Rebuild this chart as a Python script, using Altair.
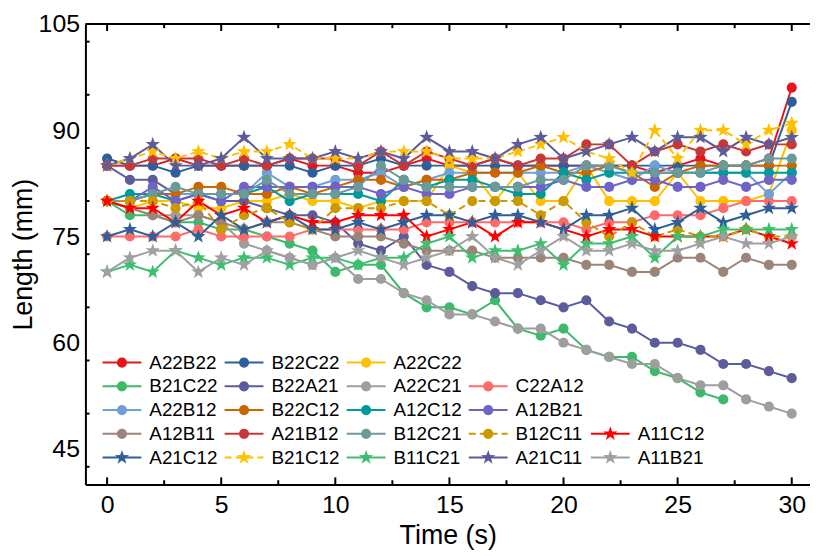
import altair as alt
import pandas as pd

# ---------------- data ----------------
times = list(range(31))

names = ["A22B22", "B22C22", "A22C22", "B21C22", "B22A21", "A22C21", "C22A12",
         "A22B12", "B22C12", "A12C12", "A12B21", "A12B11", "A21B12", "B12C21",
         "B12C11", "A11C12", "A21C12", "B21C12", "B11C21", "A21C11", "A11B21"]

A22B22 = [85, 85, 85, 86, 85, 85, 85, 85, 86, 85, 85, 84, 84, 85, 86, 85, 85, 86, 85, 85, 85, 85, 85, 85, 84, 85, 86, 85, 85, 86, 96]
B22C22 = [86, 85, 85, 84, 85, 85, 85, 85, 85, 84, 85, 85, 86, 85, 85, 85, 85, 85, 85, 85, 85, 85, 85, 85, 85, 85, 85, 85, 85, 85, 94]
A22C22 = [80, 79, 80, 80, 79, 79, 80, 80, 81, 80, 80, 79, 80, 80, 80, 85, 84, 80, 84, 80, 80, 85, 80, 80, 80, 84, 80, 80, 80, 81, 90]
B21C22 = [80, 78, 78, 77, 77, 76, 76, 75, 74, 73, 70, 71, 71, 67, 65, 65, 64, 66, 62, 61, 62, 59, 58, 58, 56, 55, 53, 52, None, None, None]
B22A21 = [85, 83, 83, 81, 81, 80, 80, 79, 78, 78, 77, 74, 73, 75, 71, 70, 68, 67, 67, 66, 65, 66, 63, 62, 60, 60, 59, 57, 57, 56, 55]
A22C21 = [80, 79, 78, 78, 78, 77, 74, 73, 72, 71, 72, 69, 69, 67, 66, 64, 64, 63, 62, 62, 60, 59, 58, 57, 57, 55, 54, 54, 52, 51, 50]
C22A12 = [75, 75, 75, 75, 76, 75, 75, 75, 75, 76, 76, 76, 76, 76, 77, 77, 77, 77, 77, 77, 77, 76, 77, 77, 78, 78, 78, 79, 80, 80, 80]
A22B12 = [80, 80, 81, 81, 81, 81, 81, 84, 82, 82, 83, 83, 84, 82, 83, 84, 84, 84, 84, 84, 84, 85, 84, 83, 85, 84, 84, 84, 84, 81, 84]
B22C12 = [80, 80, 81, 81, 82, 82, 81, 81, 82, 81, 82, 83, 83, 82, 83, 83, 84, 84, 84, 85, 84, 84, 85, 84, 82, 84, 85, 85, 85, 85, 85]
A12C12 = [80, 81, 81, 80, 81, 81, 81, 82, 80, 81, 81, 81, 80, 83, 82, 83, 83, 82, 81, 81, 84, 83, 84, 84, 84, 84, 84, 84, 84, 84, 84]
A12B21 = [80, 80, 82, 80, 81, 80, 82, 82, 82, 82, 82, 82, 81, 82, 81, 81, 82, 82, 82, 82, 83, 82, 82, 83, 83, 82, 82, 83, 82, 83, 83]
A12B11 = [80, 79, 78, 77, 78, 77, 76, 77, 77, 76, 75, 75, 75, 74, 73, 73, 73, 72, 72, 72, 72, 71, 71, 70, 70, 72, 72, 70, 72, 71, 71]
A21B12 = [85, 85, 86, 86, 86, 85, 86, 85, 86, 86, 86, 85, 87, 85, 87, 86, 85, 86, 85, 86, 86, 88, 88, 85, 87, 88, 87, 88, 87, 88, 88]
B12C21 = [80, 80, 81, 82, 81, 81, 81, 83, 81, 81, 81, 82, 85, 83, 82, 82, 82, 82, 82, 83, 83, 85, 85, 84, 84, 84, 84, 85, 85, 86, 86]
B12C11 = [80, 80, 80, 79, 80, 76, 78, 79, 77, 76, 79, 79, 79, 80, 80, 78, 80, 80, 80, 78, 80, 77, 75, 77, 75, 76, 75, 75, 76, 75, 75]
A11C12 = [80, 79, 79, 77, 80, 78, 79, 77, 78, 77, 77, 78, 78, 78, 75, 76, 77, 75, 77, 77, 76, 75, 76, 76, 75, 75, 75, 75, 76, 75, 74]
A21C12 = [75, 76, 75, 77, 75, 78, 76, 77, 78, 76, 76, 77, 76, 77, 78, 78, 77, 78, 78, 77, 76, 78, 78, 79, 76, 77, 79, 77, 78, 79, 79]
B21C12 = [85, 86, 87, 86, 87, 86, 87, 87, 88, 86, 86, 86, 87, 87, 87, 86, 86, 86, 87, 88, 89, 87, 86, 84, 90, 86, 90, 90, 88, 90, 91]
B11C21 = [70, 71, 70, 73, 72, 71, 72, 72, 71, 72, 72, 71, 72, 72, 74, 75, 72, 73, 73, 74, 71, 74, 74, 75, 72, 75, 75, 76, 76, 76, 76]
A21C11 = [85, 86, 88, 85, 85, 86, 89, 86, 86, 86, 87, 86, 87, 86, 89, 87, 87, 86, 88, 89, 86, 87, 88, 89, 87, 89, 89, 87, 89, 88, 89]
A11B21 = [70, 72, 73, 73, 70, 72, 71, 73, 72, 71, 72, 73, 72, 71, 72, 73, 75, 72, 71, 73, 75, 73, 73, 74, 73, 73, 74, 75, 74, 74, 75]

series_values = [A22B22, B22C22, A22C22, B21C22, B22A21, A22C21, C22A12,
                 A22B12, B22C12, A12C12, A12B21, A12B11, A21B12, B12C21,
                 B12C11, A11C12, A21C12, B21C12, B11C21, A21C11, A11B21]

x_ticks = [0, 5, 10, 15, 20, 25, 30]
y_ticks = [45, 60, 75, 90, 105]

# ---------------- styles ----------------
colors = ["#e8141c", "#2f5f98", "#ffc000", "#3cb96a", "#5c5c9c", "#9e9e9e", "#ff6b6b",
          "#6fa0d8", "#cc6600", "#009a9a", "#6e63c6", "#9b8478", "#c83737", "#6a9a9a",
          "#cc9900", "#ff0000", "#2f5f98", "#ffc000", "#3cc070", "#5c5c9c", "#a0a0a0"]
star_series = ["A11C12", "A21C12", "B21C12", "B11C21", "A21C11", "A11B21"]
dashed_series = ["B12C11", "B21C12"]
STAR = ("M0,-1L0.235,-0.324L0.951,-0.309L0.38,0.124L0.588,0.809L0,0.4"
        "L-0.588,0.809L-0.38,0.124L-0.951,-0.309L-0.235,-0.324Z")

# legend arrangement (row, column) per series
legend_layout = [(0, 0), (0, 1), (0, 2),
                 (1, 0), (1, 1), (1, 2), (1, 3),
                 (2, 0), (2, 1), (2, 2), (2, 3),
                 (3, 0), (3, 1), (3, 2), (3, 3), (3, 4),
                 (4, 0), (4, 1), (4, 2), (4, 3), (4, 4)]
legend_rows = [57.2, 53.85, 50.5, 47.15, 43.8]   # in mm units
legend_cols = [0.65, 6.0, 11.35, 16.7, 22.05]     # in time units
legend_half = 0.85
legend_text_gap = 1.2

X_MIN, X_MAX = -0.95, 30.8
Y_MIN, Y_MAX = 40, 105
FONT = "Liberation Sans"

# ---------------- tables ----------------
rows = []
for n, vals in zip(names, series_values):
    for t, v in zip(times, vals):
        if v is not None:
            rows.append({"series": n, "t": t, "v": v})
df = pd.DataFrame(rows)
df["star"] = df["series"].isin(star_series)
df["dashed"] = df["series"].isin(dashed_series)

leg_pts, leg_seg, leg_txt = [], [], []
for n, (r, c) in zip(names, legend_layout):
    cx, cy = legend_cols[c], legend_rows[r]
    leg_pts.append({"series": n, "t": cx, "v": cy, "star": n in star_series})
    leg_seg.append({"series": n, "t": cx - legend_half, "t2": cx + legend_half, "v": cy,
                    "dashed": n in dashed_series})
    leg_txt.append({"series": n, "t": cx + legend_text_gap, "v": cy})
leg_pts = pd.DataFrame(leg_pts)
leg_seg = pd.DataFrame(leg_seg)
leg_txt = pd.DataFrame(leg_txt)

tick_rows = []
for xv in [i * 2.5 for i in range(13)]:
    L = 1.0 if xv % 5 == 0 else 0.6
    tick_rows.append({"t": xv, "t2": xv, "v": Y_MIN, "v2": Y_MIN + L})
    tick_rows.append({"t": xv, "t2": xv, "v": Y_MAX, "v2": Y_MAX - L})
for yv in [42.5 + i * 7.5 for i in range(9)]:
    L = 0.3 if (yv - 45) % 15 == 0 else 0.18
    tick_rows.append({"t": X_MIN, "t2": X_MIN + L, "v": yv, "v2": yv})
ticks_df = pd.DataFrame(tick_rows)
frame_df = pd.DataFrame([{"t": X_MIN, "t2": X_MAX, "v": Y_MAX, "v2": Y_MAX}])

# ---------------- encodings ----------------
x_scale = alt.Scale(domain=[X_MIN, X_MAX], nice=False, zero=False)
y_scale = alt.Scale(domain=[Y_MIN, Y_MAX], nice=False, zero=False)
X = alt.X("t:Q", scale=x_scale, title="Time (s)", axis=alt.Axis(values=x_ticks, format="d"))
Y = alt.Y("v:Q", scale=y_scale, title="Length (mm)", axis=alt.Axis(values=y_ticks, format="d"))
C = alt.Color("series:N", scale=alt.Scale(domain=names, range=colors), legend=None)

solid_lines = alt.Chart(df).transform_filter("!datum.dashed").mark_line(strokeWidth=2).encode(
    x=X, y=Y, color=C, detail="series:N")
dash_lines = alt.Chart(df).transform_filter("datum.dashed").mark_line(
    strokeWidth=2, strokeDash=[7, 4]).encode(x=X, y=Y, color=C, detail="series:N")
circles = alt.Chart(df).transform_filter("!datum.star").mark_point(
    shape="circle", filled=True, opacity=1, size=105, strokeWidth=0).encode(x=X, y=Y, color=C)
stars = alt.Chart(df).transform_filter("datum.star").mark_point(
    shape=STAR, filled=True, opacity=1, size=230, strokeWidth=0).encode(x=X, y=Y, color=C)

leg_solid = alt.Chart(leg_seg).transform_filter("!datum.dashed").mark_rule(strokeWidth=2).encode(
    x=X, x2="t2:Q", y=Y, color=C)
leg_dash = alt.Chart(leg_seg).transform_filter("datum.dashed").mark_rule(
    strokeWidth=2, strokeDash=[7, 4]).encode(x=X, x2="t2:Q", y=Y, color=C)
leg_circ = alt.Chart(leg_pts).transform_filter("!datum.star").mark_point(
    shape="circle", filled=True, opacity=1, size=105, strokeWidth=0).encode(x=X, y=Y, color=C)
leg_star = alt.Chart(leg_pts).transform_filter("datum.star").mark_point(
    shape=STAR, filled=True, opacity=1, size=230, strokeWidth=0).encode(x=X, y=Y, color=C)
leg_text = alt.Chart(leg_txt).mark_text(align="left", baseline="middle", fontSize=19,
                                        font=FONT, color="black").encode(
    x=X, y=Y, text="series:N")

tick_marks = alt.Chart(ticks_df).mark_rule(color="black", strokeWidth=2).encode(
    x=X, x2="t2:Q", y=Y, y2="v2:Q")
top_frame = alt.Chart(frame_df).mark_rule(color="black", strokeWidth=2).encode(
    x=X, x2="t2:Q", y=Y)

chart = alt.layer(solid_lines, dash_lines, circles, stars,
                  leg_solid, leg_dash, leg_circ, leg_star, leg_text,
                  tick_marks, top_frame).properties(
    width=730, height=464,
    autosize=alt.AutoSizeParams(type="none"),
    padding={"left": 78, "top": 14, "right": 0, "bottom": 68},
).configure_view(stroke=None).configure(background="white").configure_axis(
    grid=False, tickSize=0, domainColor="black", domainWidth=2,
    labelColor="black", titleColor="black", labelFont=FONT, titleFont=FONT,
    labelFontSize=25, titleFontSize=27, titleFontWeight="normal",
).configure_axisX(labelPadding=8, titlePadding=5).configure_axisY(labelPadding=6, titlePadding=1)

chart.save("out.html", embed_options={"renderer": "svg", "actions": False})
